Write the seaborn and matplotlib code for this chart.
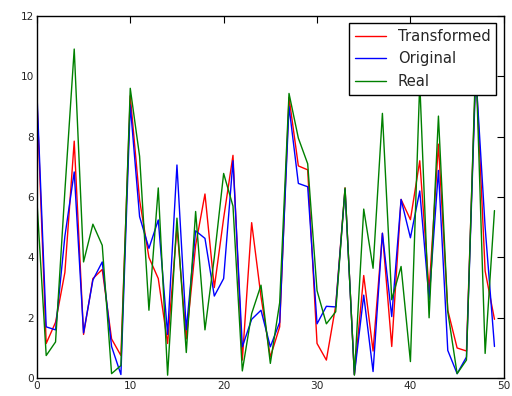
import matplotlib
matplotlib.use("Agg")
import matplotlib.pyplot as plt
import seaborn as sns
import pandas as pd

# values, one per index 0..49
transformed = [9.3, 1.15, 1.85, 3.5, 7.85, 1.45, 3.3, 3.6, 1.3, 0.75,
               9.35, 5.9, 4.0, 3.3, 1.15, 5.0, 1.3, 4.4, 6.1, 3.0,
               5.3, 7.38, 0.6, 5.15, 2.7, 0.7, 1.7, 9.3, 7.03, 6.9,
               1.15, 0.6, 2.4, 6.3, 0.12, 3.4, 0.9, 4.8, 1.05, 5.92,
               5.25, 7.2, 2.9, 7.75, 2.25, 1.0, 0.9, 10.3, 3.55, 1.95]
original = [9.5, 1.7, 1.6, 4.7, 6.83, 1.5, 3.25, 3.85, 1.05, 0.12,
            9.05, 5.35, 4.3, 5.24, 1.45, 7.06, 1.6, 4.88, 4.63, 2.72,
            3.3, 7.2, 1.04, 1.95, 2.25, 1.04, 1.85, 9.0, 6.45, 6.34,
            1.8, 2.38, 2.36, 6.25, 0.12, 2.75, 0.22, 4.8, 2.04, 5.92,
            4.65, 6.2, 2.6, 6.88, 0.92, 0.15, 0.7, 10.1, 5.0, 1.05]
real = [5.9, 0.75, 1.2, 6.2, 10.9, 3.85, 5.1, 4.4, 0.15, 0.42,
        9.6, 7.35, 2.25, 6.3, 0.1, 5.3, 0.85, 5.52, 1.6, 4.0,
        6.78, 5.7, 0.24, 2.14, 3.08, 0.49, 2.5, 9.43, 7.95, 7.1,
        2.9, 1.8, 2.2, 6.3, 0.1, 5.6, 3.64, 8.77, 2.6, 3.7,
        0.55, 9.8, 2.0, 8.68, 2.2, 0.15, 0.6, 10.6, 0.82, 5.55]
series_names = ["Transformed", "Original", "Real"]
series_colors = ["red", "blue", "green"]
x_ticks = [0, 10, 20, 30, 40, 50]
y_ticks = [0, 2, 4, 6, 8, 10, 12]

rows = []
for name, vals in zip(series_names, [transformed, original, real]):
    for i, v in enumerate(vals):
        rows.append({"x": i, "y": v, "series": name})
df = pd.DataFrame(rows)

sns.set_style("white")
plt.rcParams["font.family"] = ["DejaVu Sans"]
plt.rcParams["xtick.direction"] = "in"
plt.rcParams["ytick.direction"] = "in"

fig = plt.figure(figsize=(5.12, 3.96), dpi=100)
ax = fig.add_axes([0.072, 0.045, 0.912, 0.915])

sns.lineplot(data=df, x="x", y="y", hue="series", hue_order=series_names,
             palette=series_colors, linewidth=1.0, ax=ax)

ax.set_xlim(0, 50)
ax.set_ylim(0, 12)
ax.set_xticks(x_ticks)
ax.set_yticks(y_ticks)
ax.set_xlabel("")
ax.set_ylabel("")
ax.tick_params(which="both", top=True, right=True, length=5, width=0.8,
               labelsize=7.6, color="black", pad=2)
for sp in ax.spines.values():
    sp.set_color("black")
    sp.set_linewidth(1.0)

leg = ax.legend(loc="upper right", fontsize=10.6, fancybox=False,
                frameon=True, edgecolor="black", framealpha=1,
                handlelength=2.1, borderaxespad=0.5)
leg.get_frame().set_linewidth(1.0)

fig.savefig("out.png", dpi=100)
